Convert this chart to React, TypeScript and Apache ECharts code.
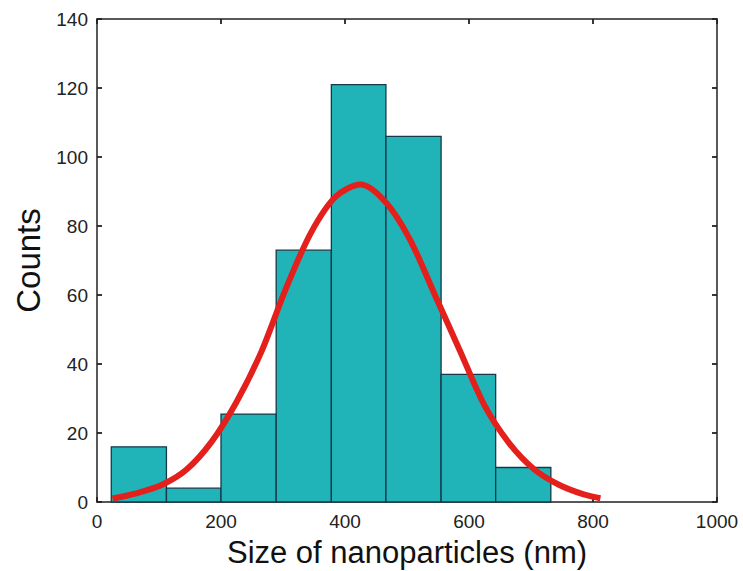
import React, { useEffect, useRef } from "react";
import * as echarts from "echarts";

// Histogram bin edges (nm) and counts
const binStarts = [23, 112, 200, 289, 378, 466, 555, 643];
const binEnds = [112, 200, 289, 378, 466, 555, 643, 732];
const counts = [16, 4, 25.5, 73, 121, 106, 37, 10];

// Fitted curve points
const fitX = [25, 65, 105, 145, 185, 225, 265, 305, 345, 385, 425, 465, 505, 545, 585, 625, 665, 705, 745, 785, 812];
const fitY = [1, 2.6, 5, 9.5, 17.5, 29, 43.5, 62, 78, 88.5, 92, 87, 76, 60, 44, 28, 17, 9.5, 5, 2.2, 1.1];

const xTicks = [0, 200, 400, 600, 800, 1000];
const yTicks = [0, 20, 40, 60, 80, 100, 120, 140];

export default function App() {
  const ref = useRef<HTMLDivElement>(null);
  useEffect(() => {
    if (!ref.current) return;
    const chart = echarts.init(ref.current, null, { renderer: "svg" });
    const font = "'Liberation Sans', Arial, sans-serif";
    const axisLine = () => ({ show: true, onZero: false, lineStyle: { color: "#222", width: 1.5 } });
    const tick = () => ({ show: true, inside: true, length: 5, lineStyle: { color: "#222", width: 1.8 } });
    const tickNeg = () => ({ show: true, inside: false, length: -5, lineStyle: { color: "#222", width: 1.8 } });
    const xMin = xTicks[0];
    const xMax = xTicks[xTicks.length - 1];
    const yMin = yTicks[0];
    const yMax = yTicks[yTicks.length - 1];
    const barData = binStarts.map((s, i) => [s, binEnds[i], counts[i]]);
    const lineData = fitX.map((x, i) => [x, fitY[i]]);
    chart.setOption({
      animation: false,
      backgroundColor: "#ffffff",
      grid: { left: 97, right: 26, top: 19, bottom: 69, containLabel: false, outerBoundsMode: "none" },
      xAxis: [
        {
          type: "value",
          min: xMin,
          max: xMax,
          interval: 200,
          position: "top",
          axisLine: axisLine(),
          axisTick: tick(),
          splitLine: { show: false },
          axisLabel: { show: false },
        },
        {
          type: "value",
          min: xMin,
          max: xMax,
          interval: 200,
          position: "bottom",
          axisLine: axisLine(),
          axisTick: tickNeg(),
          splitLine: { show: false },
          axisLabel: { color: "#222", fontSize: 19, fontFamily: font, margin: 10, formatter: (v: number) => String(v) },
          name: "Size of nanoparticles (nm)",
          nameLocation: "middle",
          nameGap: 33,
          nameTextStyle: { color: "#111", fontSize: 31, lineHeight: 34, fontFamily: font, verticalAlign: "top" },
        },
      ],
      yAxis: [
        {
          type: "value",
          min: yMin,
          max: yMax,
          interval: 20,
          position: "right",
          axisLine: axisLine(),
          axisTick: tick(),
          splitLine: { show: false },
          axisLabel: { show: false },
        },
        {
          type: "value",
          min: yMin,
          max: yMax,
          interval: 20,
          position: "left",
          axisLine: axisLine(),
          axisTick: tickNeg(),
          splitLine: { show: false },
          axisLabel: { color: "#222", fontSize: 19, fontFamily: font, margin: 9 },
          name: "Counts",
          nameLocation: "middle",
          nameGap: 52,
          nameTextStyle: { color: "#111", fontSize: 33, fontFamily: font },
        },
      ],
      series: [
        {
          type: "custom",
          xAxisIndex: 1,
          yAxisIndex: 1,
          encode: { x: [0, 1], y: 2 },
          data: barData,
          z: 2,
          renderItem: (params: any, api: any) => {
            const start = api.coord([api.value(0), 0]);
            const end = api.coord([api.value(1), api.value(2)]);
            return {
              type: "rect",
              shape: { x: start[0], y: end[1], width: end[0] - start[0], height: start[1] - end[1] },
              style: { fill: "#20b4b8", stroke: "#173848", lineWidth: 1.3 },
            };
          },
        },
        {
          type: "line",
          xAxisIndex: 1,
          yAxisIndex: 1,
          data: lineData,
          smooth: 0.3,
          showSymbol: false,
          symbol: "none",
          z: 5,
          lineStyle: { color: "#e3201c", width: 6, cap: "butt" },
        },
        {
          type: "line",
          xAxisIndex: 0,
          yAxisIndex: 0,
          data: [],
          silent: true,
        },
      ],
    });
    return () => chart.dispose();
  }, []);
  return (
    <div
      ref={ref}
      style={{ position: "fixed", left: 0, top: 0, width: 743, height: 571, background: "#fff" }}
    />
  );
}
